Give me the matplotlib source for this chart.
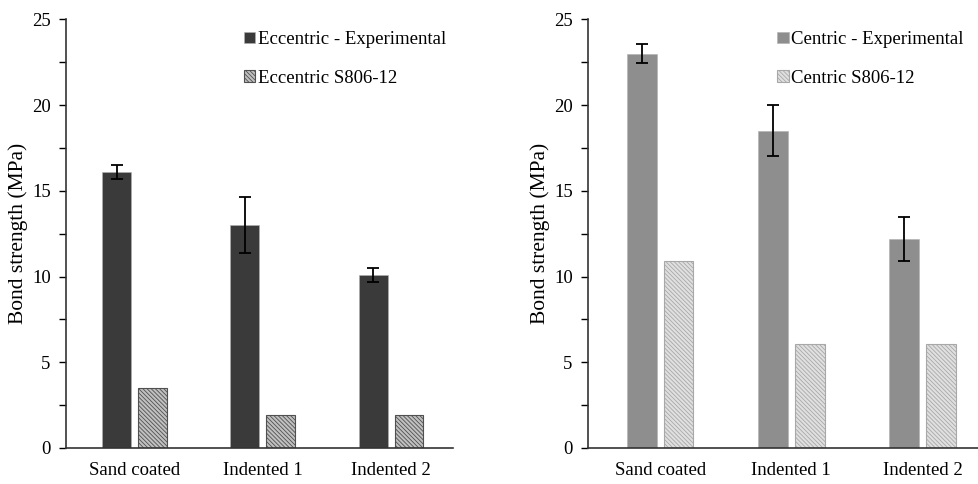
import matplotlib
matplotlib.use("Agg")
import matplotlib.pyplot as plt
import numpy as np

categories = ["Sand coated", "Indented 1", "Indented 2"]

ecc_exp = [16.1, 13.0, 10.1]
ecc_exp_err = [0.4, 1.65, 0.42]
ecc_s806 = [3.5, 1.9, 1.9]

cen_exp = [23.0, 18.5, 12.2]
cen_exp_err = [0.55, 1.5, 1.3]
cen_s806 = [10.9, 6.05, 6.05]

y_ticks = [0, 5, 10, 15, 20, 25]

plt.rcParams['font.family'] = ['Liberation Serif', 'DejaVu Serif']
plt.rcParams['hatch.linewidth'] = 0.6

fig = plt.figure(figsize=(9.79, 4.84), dpi=100)
ax1 = fig.add_axes([66/979, 1-448/484, 387/979, (448-19.3)/484])
ax2 = fig.add_axes([588/979, 1-448/484, 391/979, (448-19.3)/484])

def draw(ax, exp, err, s806, exp_color, hatch_face, hatch_edge, lab1, lab2, xlim, leg_anchor):
    x = np.arange(len(categories))
    w = 0.225
    off = 0.14
    ax.bar(x - off, exp, w, color=exp_color, edgecolor='#b0b0b0', linewidth=0.4,
           yerr=err, capsize=4, error_kw=dict(ecolor='black', elinewidth=1.3, capthick=1.3),
           label=lab1, zorder=2)
    ax.bar(x + off, s806, w, facecolor=hatch_face, edgecolor=hatch_edge, hatch='\\\\\\\\\\\\\\\\',
           linewidth=0.8, label=lab2, zorder=2)
    ax.set_xlim(*xlim)
    ax.set_ylim(0, 25)
    ax.set_yticks(y_ticks)
    ax.set_yticks(np.arange(2.5, 25, 5), minor=True)
    ax.set_xticks(x)
    ax.set_xticklabels(categories, fontsize=13.5)
    ax.tick_params(axis='x', length=0, pad=10)
    ax.tick_params(axis='y', which='both', length=5, width=1, direction='out', labelsize=13.5, pad=6)
    for s in ['top', 'right']:
        ax.spines[s].set_visible(False)
    ax.spines['left'].set_color('#333333')
    ax.spines['bottom'].set_color('#333333')
    ax.spines['left'].set_linewidth(1.2)
    ax.spines['bottom'].set_linewidth(1.2)
    ax.set_ylabel("Bond strength (MPa)", fontsize=15.5, labelpad=3)
    ax.legend(loc='upper left', bbox_to_anchor=leg_anchor, frameon=False, fontsize=13.5,
              handlelength=0.6, handleheight=0.6, handletextpad=0.15, labelspacing=1.15,
              borderaxespad=0)

draw(ax1, ecc_exp, ecc_exp_err, ecc_s806, '#3a3a3a', '#c0c0c0', '#505050',
     "Eccentric - Experimental", "Eccentric S806-12", (-0.534, 2.483), (0.44, 0.99))
draw(ax2, cen_exp, cen_exp_err, cen_s806, '#8e8e8e', '#e0e0e0', '#a8a8a8',
     "Centric - Experimental", "Centric S806-12", (-0.55, 2.43), (0.465, 0.99))

fig.savefig("out.png", dpi=100)
